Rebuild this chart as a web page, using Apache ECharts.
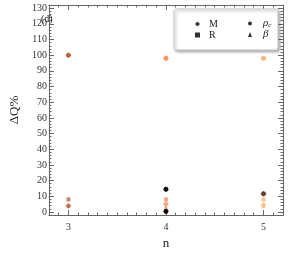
<!DOCTYPE html>
<html><head><meta charset="utf-8">
<script src="https://cdn.jsdelivr.net/npm/echarts@6/dist/echarts.min.js"></script>
<style>html,body{margin:0;padding:0;background:#fff}#c{width:291px;height:255px}</style>
</head><body><div id="c"></div>
<script>
// ---- data ----
const nValues = [3, 4, 5];
const pointColors = ['#b5663c', '#f2915a', '#f7b677'];
const valM = [4, 5, 4.5];
const valR = [8, 8, 8];
const valRho = [100, 98, 98];
const valBeta = [4, 3.3, 3.7];
const extraN = [4, 4, 5];
const extraValues = [14.5, 0.4, 11.6];
const extraColors = ['#000000', '#000000', '#5a3826'];
const xTickLabels = [3, 4, 5];
const yTickLabels = [0, 10, 20, 30, 40, 50, 60, 70, 80, 90, 100, 110, 120, 130];

const xMin = 2.8, xMax = 5.2, yMin = -2, yMax = 132;
const xMinor = []; for (let i = 28; i <= 52; i++) xMinor.push(+(i / 10).toFixed(1));
const yMinor = []; for (let v = -2; v <= 132; v += 2) yMinor.push(v);

const font = 'Liberation Serif';
const axisCol = '#666';
function mk(arr) { return nValues.map((n, i) => ({ value: [n, arr[i]], itemStyle: { color: pointColors[i] } })); }

function xAx(pos, major, labels) {
  return { type: 'value', position: pos, min: xMin, max: xMax,
    axisLine: { show: major, onZero: false, lineStyle: { color: axisCol, width: 1 } },
    splitLine: { show: false },
    axisTick: { show: true, inside: true, length: major ? 5 : 2.5, customValues: major ? xTickLabels : xMinor, lineStyle: { color: axisCol } },
    axisLabel: { show: labels, customValues: xTickLabels, fontFamily: font, fontSize: 10, color: '#333', margin: 7 },
    name: labels ? 'n' : '', nameLocation: 'middle', nameGap: 18, nameTextStyle: { fontFamily: font, fontSize: 13, color: '#222' } };
}
function yAx(pos, major, labels) {
  return { type: 'value', position: pos, min: yMin, max: yMax,
    axisLine: { show: major, onZero: false, lineStyle: { color: axisCol, width: 1 } },
    splitLine: { show: false },
    axisTick: { show: true, inside: true, length: major ? 5 : 2.5, customValues: major ? yTickLabels : yMinor, lineStyle: { color: axisCol } },
    axisLabel: { show: labels, customValues: yTickLabels, fontFamily: font, fontSize: 10, color: '#333', margin: 2 },
    name: labels ? 'ΔQ%' : '', nameLocation: 'middle', nameGap: 19, nameRotate: 90, nameTextStyle: { fontFamily: font, fontSize: 13, color: '#222' } };
}

const chart = echarts.init(document.getElementById('c'), null, { renderer: 'canvas' });
chart.setOption({
  animation: false,
  grid: { left: 30, right: 8, top: 5, bottom: 31 },
  xAxis: [xAx('bottom', true, true), xAx('bottom', false, false), xAx('top', true, false), xAx('top', false, false)],
  yAxis: [yAx('left', true, true), yAx('left', false, false), yAx('right', true, false), yAx('right', false, false)],
  graphic: [
    { type: 'rect', shape: { x: 174, y: 9, width: 104, height: 41, r: 2 }, z: 5,
      style: { fill: '#fff', stroke: '#c8c8c8', lineWidth: 1, shadowBlur: 3, shadowOffsetX: 1.5, shadowOffsetY: 1.5, shadowColor: 'rgba(0,0,0,0.35)' } },
    { type: 'text', x: 41, y: 14, z: 6, style: { text: '(d)', fontFamily: font, fontSize: 10, fill: '#222' } }
  ],
  legend: [
    { left: 190, top: 14, orient: 'vertical', itemWidth: 5, itemHeight: 5, itemGap: 1, z: 10,
      textStyle: { fontFamily: font, fontSize: 10, color: '#222', padding: [0, 0, 0, 4] },
      data: [{ name: 'M', icon: 'diamond', itemStyle: { color: '#000' } }, { name: 'R', icon: 'rect', itemStyle: { color: '#000' } }] },
    { left: 243, top: 13, orient: 'vertical', itemWidth: 4, itemHeight: 5, itemGap: 0, z: 10,
      formatter: function (name) { return name === 'ρc' ? '{i|ρ}{s|c}' : '{i|β}'; },
      textStyle: { fontFamily: font, fontSize: 10, color: '#222', padding: [0, 0, 0, 6],
        rich: { i: { fontFamily: font, fontStyle: 'italic', fontSize: 11, color: '#222' }, s: { fontFamily: font, fontStyle: 'italic', fontSize: 7, color: '#222', verticalAlign: 'bottom', padding: [4, 0, 0, 0] } } },
      data: [{ name: 'ρc', icon: 'circle', itemStyle: { color: '#000' } }, { name: 'β', icon: 'triangle', itemStyle: { color: '#000' } }] }
  ],
  series: [
    { name: 'M', type: 'scatter', symbol: 'diamond', symbolSize: 6, data: mk(valM) },
    { name: 'R', type: 'scatter', symbol: 'rect', symbolSize: 4, data: mk(valR) },
    { name: 'ρc', type: 'scatter', symbol: 'circle', symbolSize: 4, data: mk(valRho) },
    { name: 'β', type: 'scatter', symbol: 'triangle', symbolSize: 4, data: mk(valBeta) },
    { name: 'extra', type: 'scatter', symbol: 'diamond', symbolSize: 6,
      data: extraN.map((n, i) => ({ value: [n, extraValues[i]], itemStyle: { color: extraColors[i] } })) },
    { name: 'extra2', type: 'scatter', symbol: 'rect', symbolSize: 4,
      data: extraN.map((n, i) => ({ value: [n, extraValues[i]], itemStyle: { color: extraColors[i] } })) },
    { name: 'extraRho', type: 'scatter', symbol: 'diamond', symbolSize: 6,
      data: nValues.map((n, i) => ({ value: [n, valRho[i]], itemStyle: { color: pointColors[i] } })) },
    { name: 'extraRho2', type: 'scatter', symbol: 'rect', symbolSize: 4,
      data: nValues.map((n, i) => ({ value: [n, valRho[i]], itemStyle: { color: pointColors[i] } })) }
  ]
});
</script></body></html>
